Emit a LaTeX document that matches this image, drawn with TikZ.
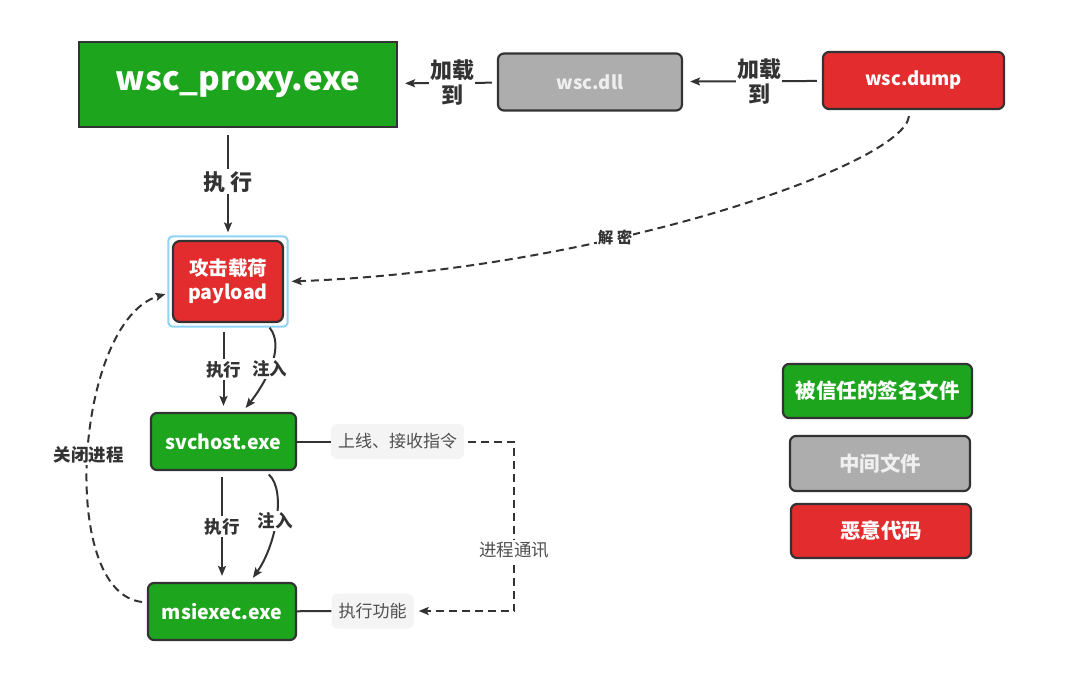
\documentclass[tikz,border=0pt]{standalone}
\usepackage{fontspec}
\setmainfont{Noto Sans CJK SC}
\usepackage{tikz}
\usetikzlibrary{
  positioning, arrows.meta, fit
}
\definecolor{trustGreen}{HTML}{1DA51D}
\definecolor{midGrey}{HTML}{ADADAD}
\definecolor{evilRed}{HTML}{E22C2E}
\definecolor{edgeDark}{HTML}{333333}
\definecolor{noteFill}{HTML}{F4F4F4}
\definecolor{noteText}{HTML}{505050}
\definecolor{selBlue}{HTML}{8FD3F5}
\definecolor{dllText}{HTML}{EFEFEF}

\begin{document}
\begin{tikzpicture}[
  x=1pt, y=-1pt,
  every node/.style={font=\bfseries},
  file/.style={
    rectangle, rounded corners=6pt,
    draw=edgeDark, line width=2.2pt,
    text=white, align=center,
    font=\fontsize{19.5}{24}\selectfont\bfseries,
    minimum height=57pt
  },
  note/.style={
    rectangle, rounded corners=6pt,
    fill=noteFill, text=noteText,
    font=\fontsize{17}{20}\selectfont,
    minimum height=35pt, inner xsep=7pt
  },
  lbl/.style={
    fill=white, text=edgeDark, inner sep=2pt, align=center,
    font=\fontsize{17.5}{21}\selectfont\bfseries
  },
  link/.style={
    edgeDark, line width=2pt, -{Stealth[length=10pt, width=8pt, inset=2pt]}
  },
  dashlink/.style={link, dash pattern=on 8pt off 5pt},
]
\useasboundingbox (0,0) rectangle (1080,697);

% Loader chain
\node[file, rounded corners=0pt, fill=trustGreen, minimum width=318pt, minimum height=85pt,
  font=\fontsize{33}{38}\selectfont\bfseries] (proxy) at (238,84.5) {wsc\_proxy.exe};
\node[file, fill=midGrey, text=dllText, minimum width=184pt, font=\fontsize{18.5}{22}\selectfont\bfseries] (dll) at (590,82) {wsc.dll};
\node[file, fill=evilRed, minimum width=181pt, font=\fontsize{18.5}{22}\selectfont\bfseries] (dump) at (913.5,80.5) {wsc.dump};

% Payload
\node[file, fill=evilRed, rounded corners=7pt, minimum width=110pt, minimum height=81pt] (payload) at (228,281.5) {攻击载荷\\payload};
\node[draw=selBlue, line width=2pt, rounded corners=4pt, inner sep=3.5pt, fit=(payload)] (sel) {};

% Processes
\node[file, fill=trustGreen, minimum width=145pt] (svc) at (223.5,441.5) {svchost.exe};
\node[file, fill=trustGreen, minimum width=148pt] (msi) at (222,611.5) {msiexec.exe};

% Notes
\node[note] (ctl) at (397.5,441.5) {上线、接收指令};
\node[note] (fn) at (372.5,611) {执行功能};

% Legend
\node[file, fill=trustGreen, minimum width=189pt, minimum height=54pt, font=\fontsize{20.5}{24}\selectfont\bfseries] (key1) at (877.5,391) {被信任的签名文件};
\node[file, fill=midGrey, text=dllText, minimum width=180pt, minimum height=55pt, font=\fontsize{20.5}{24}\selectfont\bfseries] (key2) at (880,463.5) {中间文件};
\node[file, fill=evilRed, minimum width=180pt, minimum height=54pt, font=\fontsize{20.5}{24}\selectfont\bfseries] (key3) at (881,531) {恶意代码};

% Load arrows
\draw[link, shorten <=5pt, shorten >=7pt] (dll) -- node[lbl, pos=0.45, font=\fontsize{22}{25}\selectfont\bfseries, inner sep=1pt]{加载\\到} (proxy);
\draw[link, shorten <=5pt, shorten >=7pt] (dump) -- node[lbl, pos=0.45, font=\fontsize{22}{25}\selectfont\bfseries, inner sep=1pt]{加载\\到} (dll);

% Execution
\draw[link, shorten <=7pt, shorten >=3pt] (sel.north |- proxy.south) -- node[lbl, font=\fontsize{22}{25}\selectfont\bfseries]{执 行} (sel.north);
\draw[link, shorten <=4pt, shorten >=6pt] (svc.north |- sel.south) -- node[lbl]{执行} (svc.north);
\draw[link, shorten <=6pt, shorten >=6pt] (msi.north |- svc.south) -- node[lbl]{执行} (msi.north);

% Injection
\draw[link, shorten >=5pt] ([xshift=-19pt]sel.south east) .. controls +(17,21) and +(20,-25) .. node[lbl]{注入} ([xshift=19pt]svc.north);
\draw[link, shorten <=5pt, shorten >=5pt] ([xshift=-32pt]svc.south east) .. controls +(22,20) and +(25,-35) .. node[lbl]{注入} ([xshift=28pt]msi.north);

% Decrypt
\draw[dashlink, shorten <=6pt, shorten >=3pt] ([xshift=-4pt]dump.south) .. controls +(-5,55) and +(308,-11) .. node[lbl, pos=0.63, font=\fontsize{15.5}{18}\selectfont\bfseries, inner sep=1pt]{解 密} (sel.east);

% Close process
\draw[dashlink, shorten <=5pt, shorten >=2pt] ([yshift=9pt]msi.west) .. controls +(-90,-10) and +(-92,27) .. node[lbl, pos=0.5]{关闭进程} ([yshift=-12pt]sel.west);

% Communication
\draw[edgeDark, line width=2pt] (svc) -- (ctl);
\draw[edgeDark, line width=2pt] (msi) -- (fn);
\draw[dashlink, shorten <=4pt, shorten >=5pt] (ctl.east) -- ++(50,0) |- node[lbl, pos=0.32, text=noteText, font=\fontsize{17.5}{21}\selectfont]{进程通讯} (fn.east);

\end{tikzpicture}
\end{document}
